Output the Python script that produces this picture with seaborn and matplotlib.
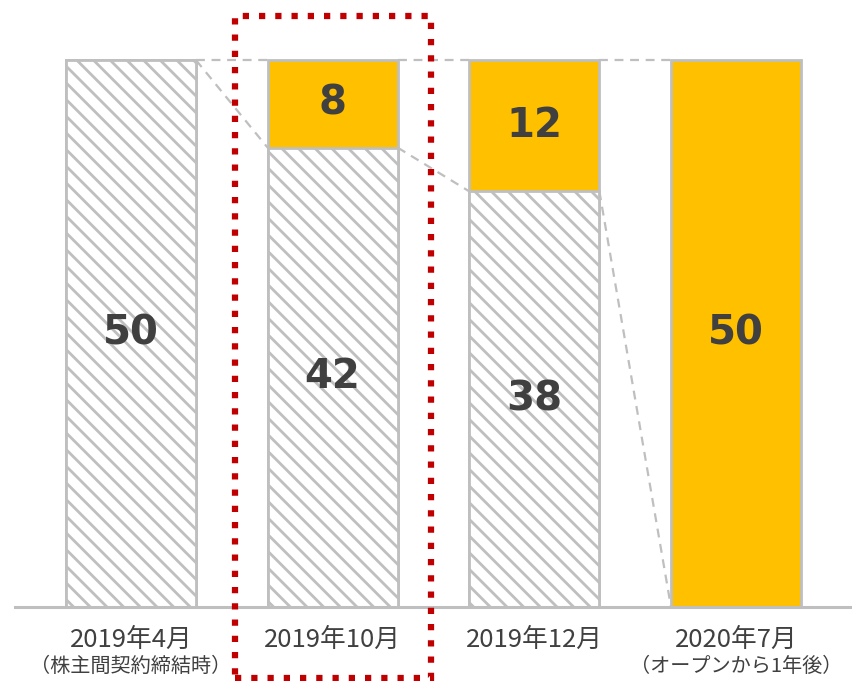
import matplotlib
matplotlib.use("Agg")
import matplotlib.pyplot as plt
import matplotlib.transforms as mtransforms
from matplotlib.patches import Rectangle
from matplotlib.font_manager import FontProperties
import seaborn as sns
import pandas as pd

# data
periods = ["2019年4月", "2019年10月", "2019年12月", "2020年7月"]
notes = ["（株主間契約締結時）", "", "", "（オープンから1年後）"]
existing = [50, 42, 38, 0]
new = [0, 8, 12, 50]

totals = [a + b for a, b in zip(existing, new)]
df = pd.DataFrame({"period": periods, "existing": existing, "new": new, "total": totals})

sns.set_style("white")
plt.rcParams["font.family"] = ["Noto Sans CJK JP", "DejaVu Sans"]
plt.rcParams["hatch.linewidth"] = 2.0
plt.rcParams["hatch.color"] = "#bfbfbf"

yellow = "#FFC000"
grey = "#bfbfbf"
text_col = "#404040"
bw = 0.645
num_font = FontProperties(family="DejaVu Sans", weight="bold", size=29)

fig = plt.figure(figsize=(8.52, 6.81), dpi=100)
ax = fig.add_axes([15 / 852, 74 / 681, 1 - 15 / 852, 607 / 681])

# yellow totals underneath, hatched existing part on top
sns.barplot(data=df, x="period", y="total", color=yellow, saturation=1, width=bw,
            edgecolor=grey, linewidth=2, ax=ax, zorder=2)
sns.barplot(data=df, x="period", y="existing", color="white", saturation=1, width=bw,
            edgecolor=grey, linewidth=2, hatch="\\\\", ax=ax, zorder=3)

# dashed connectors between bars
for i in range(len(periods) - 1):
    x0, x1 = i + bw / 2, i + 1 - bw / 2
    ax.plot([x0, x1], [totals[i], totals[i + 1]], color=grey, lw=1.6,
            ls=(0, (4, 3)), zorder=1)
    ax.plot([x0, x1], [existing[i], existing[i + 1]], color=grey, lw=1.6,
            ls=(0, (4, 3)), zorder=1)

# value labels
for i in range(len(periods)):
    if existing[i] > 0:
        ax.text(i, existing[i] / 2, str(existing[i]), ha="center", va="center",
                fontproperties=num_font, color=text_col, zorder=5)
    if new[i] > 0:
        ax.text(i, existing[i] + new[i] / 2, str(new[i]), ha="center", va="center",
                fontproperties=num_font, color=text_col, zorder=5)

ax.set_xlim(-0.575, 3.575)
ax.set_ylim(0, 55.5)
ax.set_xlabel("")
ax.set_ylabel("")
ax.set_yticks([])
ax.set_xticks(range(len(periods)))
ax.set_xticklabels(periods, fontsize=18.5, color=text_col)
ax.tick_params(axis="x", length=0, pad=14)
for s in ["top", "left", "right"]:
    ax.spines[s].set_visible(False)
ax.spines["bottom"].set_color(grey)
ax.spines["bottom"].set_linewidth(2.2)
ax.spines["bottom"].set_zorder(4)

trans = mtransforms.blended_transform_factory(ax.transData, fig.transFigure)
for i, note in enumerate(notes):
    if note:
        ax.text(i, 1 - 666 / 681, note, transform=trans, ha="center", va="center",
                fontsize=14.5, color=text_col)

# highlight box around the 2019年10月 column
box = Rectangle((1 - 0.486, 1 - 678 / 681), 0.972, (678 - 16) / 681, transform=trans,
                fill=False, edgecolor="#C00000", lw=4.5, ls=(0, (1, 1.6)),
                clip_on=False, zorder=6)
ax.add_patch(box)

fig.savefig("out.png", dpi=100)
